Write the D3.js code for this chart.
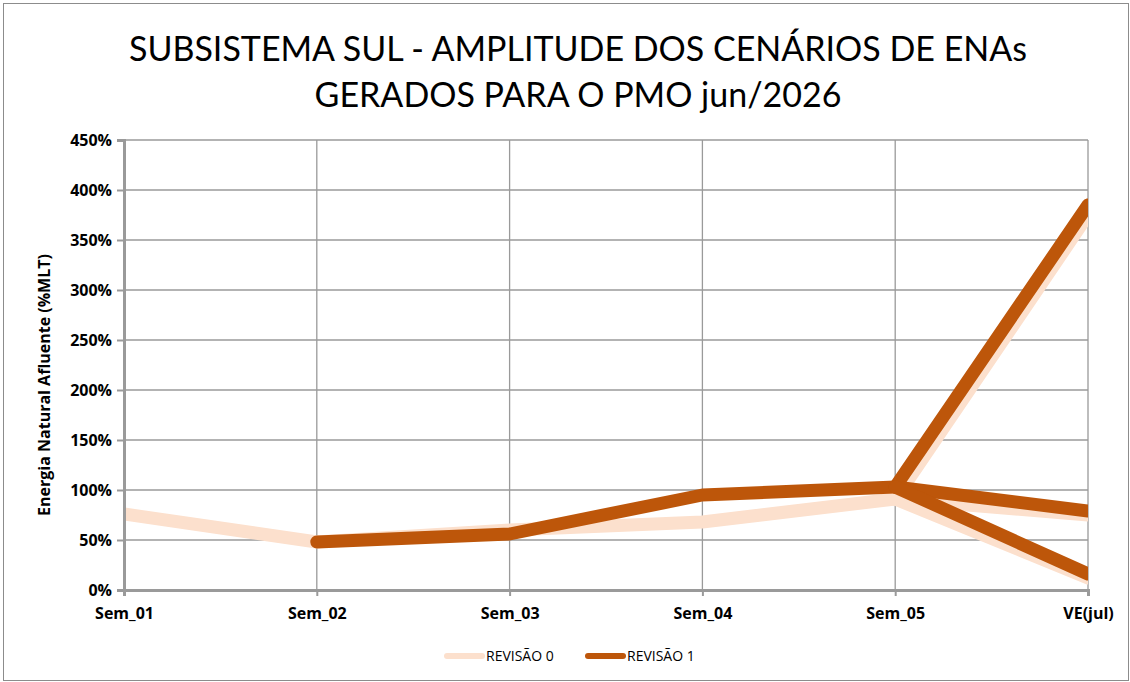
<!DOCTYPE html>
<html>
<head>
<meta charset="utf-8">
<script src="https://cdn.jsdelivr.net/npm/d3@7"></script>
<style>
  body { margin: 0; background: #fff; }
  svg { display: block; }
</style>
</head>
<body>
<div id="chart"></div>
<script>
// categories and series values (% MLT)
const categories = ["Sem_01", "Sem_02", "Sem_03", "Sem_04", "Sem_05", "VE(jul)"];
const rev0Weeks = [76, 48, 60, 68, 91];
const rev0VeBranches = [375, 75, 12];
const rev1Weeks = [null, 48, 56, 95, 103];
const rev1VeBranches = [385, 79, 16];
const yTicks = [0, 50, 100, 150, 200, 250, 300, 350, 400, 450];
const titleLines = ["SUBSISTEMA SUL - AMPLITUDE DOS CENÁRIOS DE ENAs", "GERADOS PARA O PMO jun/2026"];
const seriesNames = ["REVISÃO 0", "REVISÃO 1"];

const width = 1130, height = 682;
const margin = {top: 140, right: 42, bottom: 92, left: 124};
const innerWidth = width - margin.left - margin.right;
const innerHeight = height - margin.top - margin.bottom;

const colorLight = "#fce0cd";
const colorDark = "#bd560a";
const gridColor = "#9a9a9a";

const svg = d3.select("#chart").append("svg")
    .attr("width", width)
    .attr("height", height);

// outer frame
svg.append("rect")
    .attr("x", 3.5).attr("y", 3.5)
    .attr("width", width - 5).attr("height", height - 5)
    .attr("fill", "none")
    .attr("stroke", "#8c8c8c")
    .attr("stroke-width", 1);

// title
svg.append("g").selectAll("text")
    .data(titleLines)
    .enter()
    .append("text")
    .attr("x", 578)
    .attr("y", (d, i) => 61 + i * 46)
    .attr("text-anchor", "middle")
    .attr("font-family", "Lato, 'Open Sans', sans-serif")
    .attr("font-size", 34)
    .attr("fill", "#000")
    .text(d => d);

const g = svg.append("g")
    .attr("transform", "translate(" + margin.left + "," + margin.top + ")");

const x = d3.scalePoint().domain(categories).range([0, innerWidth]).padding(0);
const y = d3.scaleLinear().domain([0, 450]).range([innerHeight, 0]);

// gridlines
g.append("g").selectAll("line.h")
    .data(yTicks.slice(1))
    .enter()
    .append("line")
    .attr("x1", 0).attr("x2", innerWidth)
    .attr("y1", d => y(d)).attr("y2", d => y(d))
    .attr("stroke", gridColor)
    .attr("stroke-width", 1.3);

g.append("g").selectAll("line.v")
    .data(categories.slice(1))
    .enter()
    .append("line")
    .attr("x1", d => x(d)).attr("x2", d => x(d))
    .attr("y1", 0).attr("y2", innerHeight)
    .attr("stroke", gridColor)
    .attr("stroke-width", 1.3);

// clip lines to plot area
svg.append("defs").append("clipPath").attr("id", "plotClip")
    .append("rect")
    .attr("x", 0).attr("y", -20)
    .attr("width", innerWidth).attr("height", innerHeight + 40);

const line = d3.line()
    .defined(d => d.v !== null)
    .x(d => x(d.c))
    .y(d => y(d.v));

function buildPaths(weeks, branches) {
    const main = weeks.map((v, i) => ({c: categories[i], v: v}));
    const last = main[main.length - 1];
    const paths = [main];
    branches.forEach(b => {
        paths.push([last, {c: categories[categories.length - 1], v: b}]);
    });
    return paths;
}

const lines = g.append("g").attr("clip-path", "url(#plotClip)");

[[rev0Weeks, rev0VeBranches, colorLight], [rev1Weeks, rev1VeBranches, colorDark]].forEach(s => {
    lines.selectAll(null)
        .data(buildPaths(s[0], s[1]))
        .enter()
        .append("path")
        .attr("d", line)
        .attr("fill", "none")
        .attr("stroke", s[2])
        .attr("stroke-width", 13)
        .attr("stroke-linejoin", "round")
        .attr("stroke-linecap", "round");
});

// axes
const yAxis = d3.axisLeft(y).tickValues(yTicks).tickFormat(d => d + "%").tickSize(7).tickPadding(5);
const yAxisG = g.append("g").call(yAxis)
    .attr("font-family", "'Open Sans', sans-serif")
    .attr("font-size", 16)
    .attr("font-weight", "bold");
yAxisG.select(".domain").attr("stroke", gridColor).attr("stroke-width", 3);
yAxisG.selectAll(".tick line").attr("stroke", gridColor).attr("stroke-width", 2);
yAxisG.selectAll(".tick text").attr("fill", "#000");

const xAxis = d3.axisBottom(x).tickSize(6).tickPadding(12);
const xAxisG = g.append("g")
    .attr("transform", "translate(0," + innerHeight + ")")
    .call(xAxis)
    .attr("font-family", "'Open Sans', sans-serif")
    .attr("font-size", 16)
    .attr("font-weight", "bold");
xAxisG.select(".domain").attr("stroke", gridColor).attr("stroke-width", 3);
xAxisG.selectAll(".tick line").attr("stroke", gridColor).attr("stroke-width", 2);
xAxisG.selectAll(".tick text").attr("fill", "#000");

// y-axis title
svg.append("text")
    .attr("transform", "translate(50,385) rotate(-90)")
    .attr("text-anchor", "middle")
    .attr("font-family", "'Open Sans', sans-serif")
    .attr("font-size", 16)
    .attr("font-weight", "bold")
    .attr("fill", "#000")
    .text("Energia Natural Afluente (%MLT)");

// legend
const legend = svg.append("g").attr("transform", "translate(0,656)");
const legendItems = [
    {name: seriesNames[0], color: colorLight, x: 447},
    {name: seriesNames[1], color: colorDark, x: 588}
];
legendItems.forEach(d => {
    legend.append("line")
        .attr("x1", d.x).attr("x2", d.x + 35)
        .attr("y1", 0).attr("y2", 0)
        .attr("stroke", d.color)
        .attr("stroke-width", 6)
        .attr("stroke-linecap", "round");
    legend.append("text")
        .attr("x", d.x + 39)
        .attr("y", 5)
        .attr("font-family", "'Open Sans', sans-serif")
        .attr("font-size", 14)
        .attr("fill", "#000")
        .text(d.name);
});
</script>
</body>
</html>
